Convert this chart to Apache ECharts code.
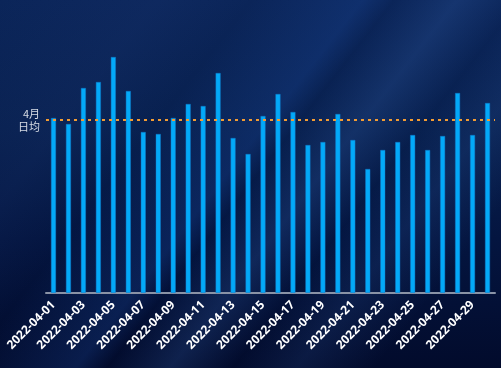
<!DOCTYPE html>
<html><head><meta charset="utf-8">
<script src="https://cdn.jsdelivr.net/npm/echarts@6/dist/echarts.min.js"></script>
<style>
html,body{margin:0;padding:0;}
#c{width:501px;height:368px;
background:
 linear-gradient(128deg, rgba(255,255,255,0) 0%, rgba(40,70,140,0.12) 20%, rgba(0,0,0,0) 32%, rgba(30,80,170,0.25) 46%, rgba(0,0,0,0) 50%, rgba(60,110,190,0.22) 58%, rgba(0,0,0,0) 66%, rgba(60,110,190,0.15) 74%, rgba(0,0,0,0) 84%),
 linear-gradient(to bottom, #0b2559 0%, #08204f 35%, #041540 65%, #020b2c 100%);}
</style></head>
<body><div id="c"></div>
<script>
var categories = ['2022-04-01','2022-04-02','2022-04-03','2022-04-04','2022-04-05','2022-04-06','2022-04-07','2022-04-08','2022-04-09','2022-04-10','2022-04-11','2022-04-12','2022-04-13','2022-04-14','2022-04-15','2022-04-16','2022-04-17','2022-04-18','2022-04-19','2022-04-20','2022-04-21','2022-04-22','2022-04-23','2022-04-24','2022-04-25','2022-04-26','2022-04-27','2022-04-28','2022-04-29','2022-04-30'];
var values = [175,169,205,211,236,202,161,159,175,189,187,220,155,139,177,199,181,148,151,179,153,124,143,151,158,143,157,200,158,190];
var avgLabel = '4月\n日均';

var chart = echarts.init(document.getElementById('c'), null, {renderer:'canvas'});
chart.setOption({
  backgroundColor: 'transparent',
  animation: false,
  grid: {left: 46, right: 6, top: 43, bottom: 75},
  xAxis: {
    type: 'category', data: categories,
    axisLine: {show: true, lineStyle: {color: '#8a93a6', width: 2}},
    axisTick: {show: false},
    axisLabel: {color: '#ffffff', fontWeight: 'bold', fontSize: 12, rotate: 45, interval: 1, margin: 10, fontFamily: 'Noto Sans'}
  },
  yAxis: {type: 'value', min: 0, max: 250, show: false, splitLine: {show: false}},
  series: [{
    type: 'bar', data: values, barWidth: 5,
    itemStyle: {color: '#03a9f8', borderColor: 'rgba(20,120,200,0.9)', borderWidth: 0.5},
    markLine: {
      symbol: 'none', silent: true,
      data: [{type: 'average'}],
      lineStyle: {color: '#f39c33', type: [3, 4], width: 2},
      label: {show: true, position: 'start', formatter: avgLabel, color: '#d8dde6', fontSize: 11, lineHeight: 13, padding: [26, 0, 0, 0], distance: 6, fontFamily: 'Noto Sans CJK SC'}
    }
  }]
});
</script></body></html>
